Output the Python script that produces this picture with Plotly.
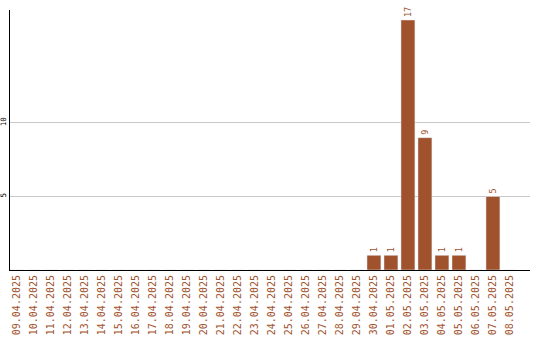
import plotly.graph_objects as go

dates = ["09.04.2025", "10.04.2025", "11.04.2025", "12.04.2025", "13.04.2025",
         "14.04.2025", "15.04.2025", "16.04.2025", "17.04.2025", "18.04.2025",
         "19.04.2025", "20.04.2025", "21.04.2025", "22.04.2025", "23.04.2025",
         "24.04.2025", "25.04.2025", "26.04.2025", "27.04.2025", "28.04.2025",
         "29.04.2025", "30.04.2025", "01.05.2025", "02.05.2025", "03.05.2025",
         "04.05.2025", "05.05.2025", "06.05.2025", "07.05.2025", "08.05.2025"]
counts = [0, 0, 0, 0, 0, 0, 0, 0, 0, 0,
          0, 0, 0, 0, 0, 0, 0, 0, 0, 0,
          0, 1, 1, 17, 9, 1, 1, 0, 5, 0]
ytick_vals = [5, 10]

color = "#A0522D"
labels = [str(v) if v > 0 else "" for v in counts]

fig = go.Figure(go.Bar(
    x=list(range(len(dates))), y=counts, marker_color=color,
    text=labels, textposition="outside", textangle=-90,
    textfont=dict(family="DejaVu Sans Mono", size=8.5, color=color),
    cliponaxis=False,
))
fig.update_layout(
    width=540, height=340,
    margin=dict(l=10, r=10, t=10, b=70, autoexpand=False),
    plot_bgcolor="white", paper_bgcolor="white",
    bargap=0.18, showlegend=False,
    uniformtext=dict(minsize=8, mode="show"),
)
fig.update_xaxes(
    range=[-0.41, 30.18], tickmode="array",
    tickvals=list(range(len(dates))), ticktext=dates,
    tickangle=-90, tickfont=dict(family="DejaVu Sans Mono", size=10, color=color),
    showline=True, linecolor="black", linewidth=1, showgrid=False,
    ticks="", automargin=False, zeroline=False,
)
fig.update_yaxes(
    range=[0, 17.68], tickmode="array", tickvals=ytick_vals,
    tickangle=-90, tickfont=dict(family="DejaVu Sans Mono", size=7.5, color="black"),
    showline=True, linecolor="black", linewidth=1,
    showgrid=True, gridcolor="#c8c8c8", gridwidth=1,
    ticks="", automargin=False, zeroline=False,
)
fig.write_html("out.html")
